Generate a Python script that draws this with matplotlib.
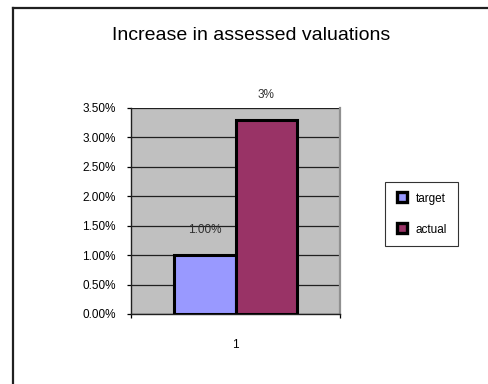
import matplotlib
matplotlib.use("Agg")
import matplotlib.pyplot as plt
from matplotlib.lines import Line2D
from matplotlib.ticker import FuncFormatter

plt.rcParams['font.family'] = ['Liberation Sans', 'DejaVu Sans']

title = "Increase in assessed valuations"
categories = ["1"]
series_names = ["target", "actual"]
series_values = [0.010, 0.033]
series_labels = ["1.00%", "3%"]
series_colors = ["#9999FF", "#993366"]
y_ticks = [0.0, 0.005, 0.010, 0.015, 0.020, 0.025, 0.030, 0.035]

fig = plt.figure(figsize=(4.89, 3.84), dpi=100)

# outer chart frame (only the left and top edges fall inside the image)
fig.add_artist(Line2D([13.5 / 489, 13.5 / 489], [0, 1 - 8 / 384], transform=fig.transFigure,
                      color="#202020", lw=1.6))
fig.add_artist(Line2D([13.5 / 489, 1], [1 - 8 / 384, 1 - 8 / 384], transform=fig.transFigure,
                      color="#202020", lw=1.6))

ax = fig.add_axes([131 / 489, 1 - 314 / 384, 209 / 489, 206 / 384])
ax.set_facecolor("#C0C0C0")

bar_w = 0.292
offsets = [-bar_w / 2, bar_w / 2]
for name, val, lab, col, off in zip(series_names, series_values, series_labels,
                                    series_colors, offsets):
    ax.bar([off], [val], width=bar_w, color=col, edgecolor="black",
           linewidth=2.2, zorder=3, label=name)
    ax.annotate(lab, (off, val), xytext=(0, 18), textcoords="offset points",
                ha="center", va="center", fontsize=8.5, color="#303030")

ax.set_xlim(-0.5, 0.5)
ax.set_ylim(0, 0.035)
ax.set_yticks(y_ticks)
ax.yaxis.set_major_formatter(FuncFormatter(lambda v, p: f"{v * 100:.2f}%"))
ax.yaxis.grid(True, color="#202020", lw=0.9, zorder=1)
ax.set_axisbelow(True)

ax.set_xticks([-0.5, 0.5])
ax.set_xticklabels(["", ""])
ax.set_xticks([0], minor=True)
ax.set_xticklabels(categories, minor=True)
ax.tick_params(axis="x", which="minor", length=0, pad=18, labelsize=8.5)
ax.tick_params(axis="x", which="major", length=3, width=0.9, direction="out")
ax.tick_params(axis="y", length=3, width=0.9, direction="out", labelsize=8.5, pad=8)

for side in ["left", "bottom"]:
    ax.spines[side].set_color("#202020")
    ax.spines[side].set_linewidth(1.0)
ax.spines["top"].set_visible(False)
ax.spines["right"].set_color("#909090")
ax.spines["right"].set_linewidth(1.6)

fig.text(251 / 489, 1 - 35 / 384, title, ha="center", va="center", fontsize=14)

handles = [Line2D([], [], marker="s", linestyle="none", markersize=6.5,
                  markerfacecolor=c, markeredgecolor="black", markeredgewidth=2.4)
           for c in series_colors]
leg = fig.legend(handles, series_names, loc="upper left",
                 bbox_to_anchor=(385 / 489, 1 - 182 / 384), fontsize=8.5,
                 frameon=True, fancybox=False, edgecolor="black",
                 handlelength=1.0, handletextpad=0.7, labelspacing=1.6,
                 borderpad=0.9, borderaxespad=0)
leg.get_frame().set_linewidth(0.8)

fig.savefig("out.png", dpi=100, facecolor="white")
